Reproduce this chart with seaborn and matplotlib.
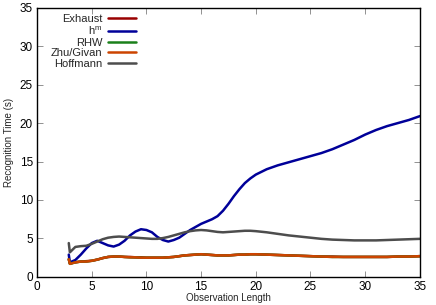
import numpy as np
import pandas as pd
import matplotlib
matplotlib.use("Agg")
import matplotlib.pyplot as plt
import seaborn as sns

# ==============================
# Data
# ==============================
obs_len = [2.9, 3.0, 3.5, 4.0, 4.5, 5.0, 5.5, 6.0, 6.5, 7.0, 7.5, 8.0, 8.5, 9.0, 9.5,
           10.0, 10.5, 11.0, 11.5, 12.0, 12.5, 13.0, 13.5, 14.0, 14.5, 15.0, 15.5,
           16.0, 16.5, 17.0, 17.5, 18.0, 18.5, 19.0, 19.5, 20.0, 21, 22, 23, 24, 25,
           26, 27, 28, 29, 30, 31, 32, 33, 34, 35]

exhaust = [2.3, 1.75, 1.9, 2.0, 2.05, 2.1, 2.25, 2.45, 2.6, 2.65, 2.65, 2.6, 2.6, 2.55, 2.55,
           2.5, 2.5, 2.5, 2.5, 2.55, 2.6, 2.7, 2.8, 2.85, 2.9, 2.95, 2.9,
           2.85, 2.8, 2.8, 2.8, 2.85, 2.9, 2.9, 2.95, 2.95, 2.9, 2.85, 2.8, 2.75, 2.7,
           2.65, 2.65, 2.6, 2.6, 2.6, 2.6, 2.6, 2.65, 2.65, 2.7]

hm = [2.9, 1.9, 2.2, 2.9, 3.7, 4.4, 4.7, 4.4, 4.1, 3.95, 4.2, 4.7, 5.4, 5.9, 6.2,
      6.1, 5.8, 5.2, 4.8, 4.6, 4.8, 5.1, 5.6, 6.1, 6.5, 6.9, 7.2,
      7.5, 7.9, 8.6, 9.5, 10.5, 11.4, 12.2, 12.8, 13.3, 14.0, 14.5, 14.9, 15.3, 15.7,
      16.1, 16.6, 17.2, 17.8, 18.5, 19.1, 19.6, 20.0, 20.4, 20.9]

rhw = [2.3, 1.7, 1.9, 2.0, 2.0, 2.1, 2.25, 2.45, 2.6, 2.65, 2.65, 2.6, 2.55, 2.55, 2.5,
       2.5, 2.5, 2.5, 2.5, 2.55, 2.6, 2.7, 2.8, 2.85, 2.9, 2.95, 2.9,
       2.85, 2.8, 2.8, 2.8, 2.85, 2.9, 2.9, 2.95, 2.95, 2.9, 2.85, 2.8, 2.75, 2.7,
       2.65, 2.6, 2.6, 2.6, 2.6, 2.6, 2.6, 2.65, 2.65, 2.7]

zhu_givan = [2.3, 1.7, 1.9, 2.0, 2.0, 2.1, 2.25, 2.45, 2.6, 2.65, 2.65, 2.6, 2.55, 2.55, 2.5,
             2.5, 2.5, 2.5, 2.5, 2.55, 2.6, 2.7, 2.8, 2.85, 2.9, 2.95, 2.9,
             2.85, 2.8, 2.8, 2.8, 2.85, 2.9, 2.9, 2.95, 2.95, 2.9, 2.85, 2.8, 2.75, 2.7,
             2.65, 2.6, 2.6, 2.6, 2.6, 2.6, 2.6, 2.65, 2.65, 2.7]

hoffmann = [4.4, 3.2, 3.9, 4.0, 4.05, 4.3, 4.6, 4.9, 5.1, 5.2, 5.25, 5.2, 5.15, 5.1, 5.05,
            5.0, 4.95, 4.95, 5.05, 5.2, 5.4, 5.6, 5.8, 5.95, 6.05, 6.1, 6.05,
            5.95, 5.85, 5.8, 5.85, 5.9, 5.95, 6.0, 6.0, 5.95, 5.8, 5.6, 5.4, 5.25, 5.1,
            4.95, 4.85, 4.8, 4.75, 4.75, 4.75, 4.8, 4.85, 4.9, 4.95]

methods = ["Exhaust", "h$^{\\mathrm{m}}$", "RHW", "Zhu/Givan", "Hoffmann"]
colors = ["#990000", "#000099", "#1a801a", "#cc4400", "#4d4d4d"]
series = [exhaust, hm, rhw, zhu_givan, hoffmann]

df = pd.concat([
    pd.DataFrame({"Observation Length": obs_len, "Recognition Time (s)": vals, "Method": name})
    for name, vals in zip(methods, series)
], ignore_index=True)

# ==============================
# Plot
# ==============================
sns.set_style("ticks")
plt.rcParams["font.family"] = ["Liberation Sans", "DejaVu Sans"]
plt.rcParams["mathtext.fontset"] = "custom"
plt.rcParams["mathtext.rm"] = "Liberation Sans"
plt.rcParams["mathtext.it"] = "Liberation Sans"

fig, ax = plt.subplots(figsize=(4.36, 3.05), dpi=100)
fig.subplots_adjust(left=0.085, right=0.963, top=0.975, bottom=0.092)

sns.lineplot(data=df, x="Observation Length", y="Recognition Time (s)", hue="Method",
             hue_order=methods, palette=colors, linewidth=1.8, sort=False, ax=ax)

ax.set_xlim(0, 35)
ax.set_ylim(0, 35)
ax.set_xticks(range(0, 36, 5))
ax.set_yticks(range(0, 36, 5))
ax.tick_params(direction="in", length=4, width=0.6, top=True, right=True,
               labelsize=8.5, pad=3, colors="#808080", labelcolor="black")
for s in ax.spines.values():
    s.set_linewidth(1.0)
    s.set_color("black")
ax.set_xlabel("Observation Length", fontsize=7, labelpad=0)
ax.set_ylabel("Recognition Time (s)", fontsize=7, labelpad=4)

handles, labels = ax.get_legend_handles_labels()
ax.legend(handles, labels, loc="upper left", bbox_to_anchor=(0.015, 1.005),
          frameon=False, markerfirst=False, fontsize=8, handlelength=2.5,
          handletextpad=0.55, labelspacing=0.05, borderpad=0.2)

fig.savefig("out.png", dpi=100)
